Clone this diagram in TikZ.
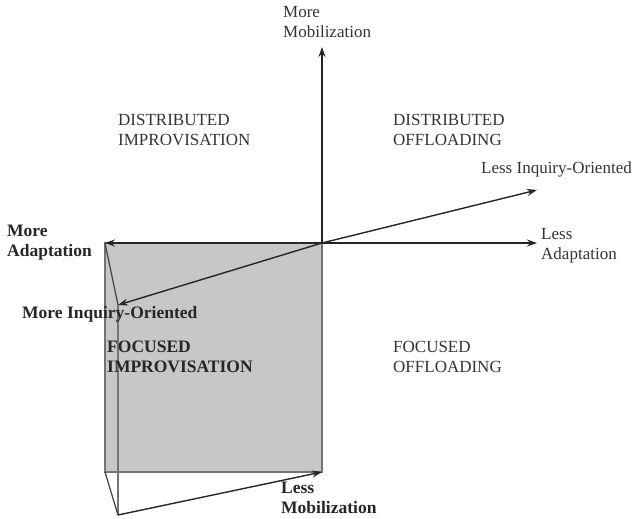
\documentclass[tikz,border=0pt]{standalone}
\usepackage{fontspec}
\setmainfont{Liberation Serif}
\usetikzlibrary{arrows.meta}
\begin{document}
\begin{tikzpicture}[x=1pt,y=-1pt,
  lbl/.style={font=\fontsize{17}{20}\selectfont,align=left,inner sep=0pt,text=black!80},
  blbl/.style={lbl,font=\fontsize{17.5}{20}\selectfont\bfseries,text=black!85},
  axis/.style={draw=black!85,line width=1.4pt,-{Stealth[length=10pt,width=7pt]}},
  edge/.style={draw=black!75,line width=1.2pt}]
\useasboundingbox (0,0) rectangle (633,519);
\coordinate (O) at (322,243);
\coordinate (T) at (322,47);
\coordinate (B) at (322,472);
\coordinate (L) at (105,243);
\coordinate (R) at (537,243);
\coordinate (IQ) at (118,305);
\coordinate (IR) at (537,190);
\coordinate (BL) at (105,472);
\coordinate (FB) at (118,515);
% grey box
\fill[black!22] (L) rectangle (B);
\draw[draw=black!55,line width=1.4pt] (L) rectangle (B);
% prism edges
\draw[edge] (L) -- (IQ);
\draw[draw=black!55,line width=1.4pt] (IQ) -- (FB);
\draw[edge] (BL) -- (FB);
\draw[axis] (FB) -- (B);
% axes
\draw[axis] (O) -- (T);
\draw[edge,draw=black!55,line width=1.4pt] (O) -- (B);
\draw[axis,line width=1.8pt] (O) -- (R);
\draw[axis,line width=1.8pt] (O) -- (L);
\draw[axis] (O) -- (IR);
\draw[axis] (O) -- (IQ);
% labels
\node[lbl,anchor=north west] (mm) at (283,6) {More\\Mobilization};
\node[lbl,anchor=north west] (di) at (118,114) {DISTRIBUTED\\IMPROVISATION};
\node[lbl,anchor=north west] (do) at (393,114) {DISTRIBUTED\\OFFLOADING};
\node[lbl,anchor=north west] (li) at (481,162) {Less Inquiry-Oriented};
\node[lbl,anchor=north west] (la) at (541,228) {Less\\Adaptation};
\node[blbl,anchor=north west] (ma) at (7,225) {More\\Adaptation};
\node[blbl,anchor=north west] (mi) at (22,306) {More Inquiry-Oriented};
\node[blbl,anchor=north west] (fi) at (107,341) {FOCUSED\\IMPROVISATION};
\node[lbl,anchor=north west] (fo) at (393,341) {FOCUSED\\OFFLOADING};
\node[blbl,anchor=north west] (lm) at (281,482) {Less\\Mobilization};
\end{tikzpicture}
\end{document}
